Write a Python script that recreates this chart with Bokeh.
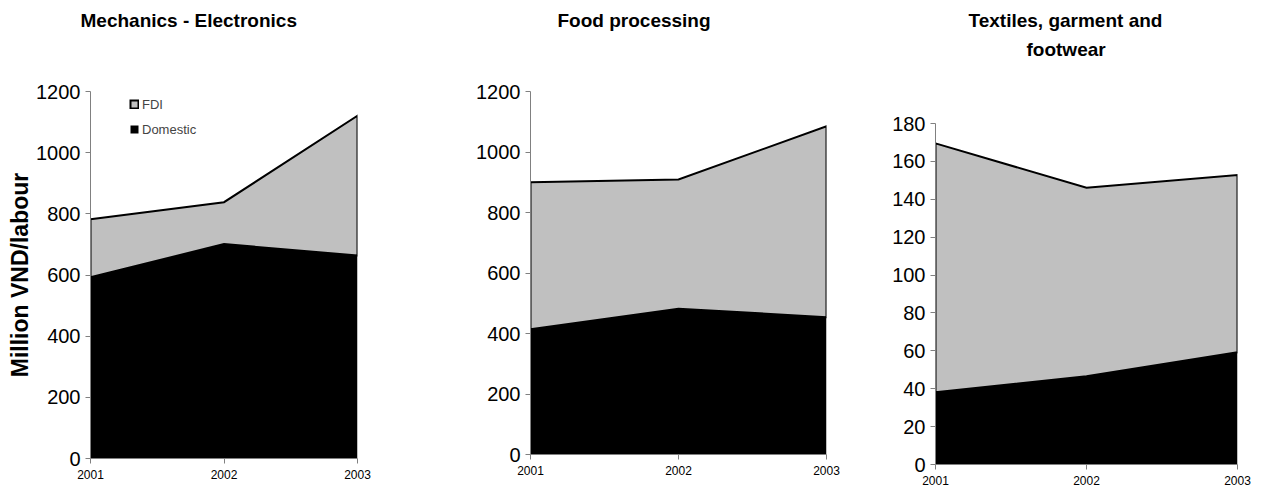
from bokeh.plotting import figure
from bokeh.models import (FixedTicker, Title, Legend, LegendItem, Range1d)
from bokeh.layouts import row, column
from bokeh.embed import file_html
from bokeh.resources import INLINE

years = [2001, 2002, 2003]

mech_domestic = [593, 701, 664]
mech_fdi = [189, 137, 457]

food_domestic = [414, 482, 454]
food_fdi = [486, 427, 631]

text_domestic = [38.1, 46.6, 59.2]
text_fdi = [131.4, 99.5, 93.6]

titles = [["Mechanics - Electronics"], ["Food processing"], ["Textiles, garment and", "footwear"]]
y_ticks_big = [0, 200, 400, 600, 800, 1000, 1200]
y_ticks_small = [0, 20, 40, 60, 80, 100, 120, 140, 160, 180]
y_label = "Million VND/labour"

FONT = "Liberation Sans"
GREY = "#C0C0C0"
AXIS = "#808080"


def set_standoff(t, so):
    try:
        t.standoff = so
    except AttributeError:
        pass


def panel(domestic, fdi, title_lines, ticks, ymax, width, height, bl, br, bt, bb,
          title_offsets, title_standoffs, gap, ylabel=None, legend=False):
    p = figure(width=width, height=height, output_backend="svg", toolbar_location=None,
               x_range=Range1d(2001, 2003), y_range=Range1d(0, ymax),
               min_border_left=bl, min_border_right=br, min_border_top=bt, min_border_bottom=bb)
    p.outline_line_color = None
    p.xgrid.visible = False
    p.ygrid.visible = False
    total = [d + f for d, f in zip(domestic, fdi)]
    dom = p.varea(x=years, y1=[0] * len(years), y2=domestic, fill_color="black")
    fdi_patch = p.patch(x=years + years[::-1], y=total + domestic[::-1],
                        fill_color=GREY, line_color="black", line_width=2, line_join="miter")

    p.yaxis.ticker = FixedTicker(ticks=ticks)
    p.xaxis.ticker = FixedTicker(ticks=years)
    for ax in (p.xaxis[0], p.yaxis[0]):
        ax.axis_line_color = AXIS
        ax.major_tick_line_color = AXIS
        ax.minor_tick_line_color = None
        ax.major_tick_in = 0
        ax.major_tick_out = 5
        ax.major_label_text_font = FONT
        ax.major_label_text_color = "black"
    p.yaxis.major_label_text_font_size = "20px"
    p.yaxis.major_label_standoff = 5
    p.xaxis.major_label_text_font_size = "12px"
    p.xaxis.major_label_standoff = 6
    if ylabel:
        p.yaxis.axis_label = ylabel
        p.yaxis.axis_label_text_font = FONT
        p.yaxis.axis_label_text_font_size = "23px"
        p.yaxis.axis_label_text_font_style = "bold"
        p.yaxis.axis_label_text_color = "black"
        p.yaxis.axis_label_standoff = 0

    # blank spacer between frame and title lines
    spacer = Title(text=" ", text_font=FONT, text_font_size="19px")
    set_standoff(spacer, gap)
    p.add_layout(spacer, "above")
    # lines are added from the one nearest the frame outwards
    for line, off, so in reversed(list(zip(title_lines, title_offsets, title_standoffs))):
        t = Title(text=line, align="left", offset=off, text_font=FONT, text_font_size="19px",
                  text_font_style="bold", text_color="black")
        set_standoff(t, so)
        p.add_layout(t, "above")

    if legend:
        lg = Legend(items=[LegendItem(label="FDI", renderers=[fdi_patch]),
                           LegendItem(label="Domestic", renderers=[dom])],
                    location=(39, 319), padding=0, margin=0, spacing=5,
                    glyph_width=10, glyph_height=10, label_height=20, label_standoff=3,
                    label_text_font=FONT, label_text_font_size="13px",
                    border_line_color=None, background_fill_alpha=0)
        p.add_layout(lg, "center")
    return p


p1 = panel(mech_domestic, mech_fdi, titles[0], y_ticks_big, 1200, 420, 492, 90, 63, 91, 34,
           [-10], [0], 38, ylabel=y_label, legend=True)
p2 = panel(food_domestic, food_fdi, titles[1], y_ticks_big, 1200, 420, 492, 110, 14, 91, 38,
           [27], [0], 38)
p3 = panel(text_domestic, text_fdi, titles[2], y_ticks_small, 180, 424, 492, 95, 27, 123, 28,
           [33, 91], [12, 0], 41)

layout = row(column(p1), column(p2), column(p3))
open("out.html", "w").write(file_html(layout, INLINE))
